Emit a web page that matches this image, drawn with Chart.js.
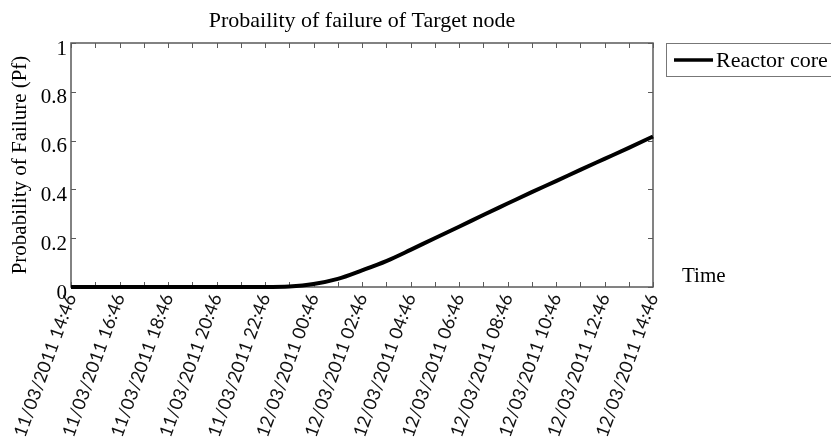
<!DOCTYPE html>
<html>
<head>
<meta charset="utf-8">
<script src="https://cdn.jsdelivr.net/npm/chart.js@4"></script>
<style>
  html, body { margin: 0; padding: 0; background: #fff; }
  #wrap { width: 831px; height: 442px; }
</style>
</head>
<body>
<div id="wrap"><canvas id="myChart" width="831" height="442"></canvas></div>
<script>
const timeLabels = [
  "11/03/2011 14:46", "11/03/2011 15:46", "11/03/2011 16:46", "11/03/2011 17:46",
  "11/03/2011 18:46", "11/03/2011 19:46", "11/03/2011 20:46", "11/03/2011 21:46",
  "11/03/2011 22:46", "11/03/2011 23:46", "12/03/2011 00:46", "12/03/2011 01:46",
  "12/03/2011 02:46", "12/03/2011 03:46", "12/03/2011 04:46", "12/03/2011 05:46",
  "12/03/2011 06:46", "12/03/2011 07:46", "12/03/2011 08:46", "12/03/2011 09:46",
  "12/03/2011 10:46", "12/03/2011 11:46", "12/03/2011 12:46", "12/03/2011 13:46",
  "12/03/2011 14:46",
];

const reactorCore = [
  0, 0, 0, 0, 0, 0, 0, 0, 0, 0.002, 0.012, 0.033,
  0.068, 0.106, 0.152, 0.2, 0.247, 0.295, 0.342, 0.389, 0.434, 0.48,
  0.525, 0.57, 0.617,
];

const yTicks = [0, 0.2, 0.4, 0.6, 0.8, 1];

const serif = "'Liberation Serif', 'Times New Roman', serif";
const axisColor = "#5a5a5a";

// matlab style box with inward ticks on all four sides
const axesBox = {
  id: "axesBox",
  beforeDatasetsDraw(chart) {
    const { ctx, chartArea: a, scales } = chart;
    const len = 5;
    ctx.save();
    ctx.strokeStyle = axisColor;
    ctx.lineWidth = 1.5;
    ctx.strokeRect(a.left, a.top, a.right - a.left, a.bottom - a.top);
    ctx.lineWidth = 1;
    ctx.beginPath();
    scales.x.ticks.forEach((t, i) => {
      const x = Math.round(scales.x.getPixelForTick(i)) + 0.5;
      ctx.moveTo(x, a.bottom);
      ctx.lineTo(x, a.bottom - len);
      ctx.moveTo(x, a.top);
      ctx.lineTo(x, a.top + len);
    });
    scales.y.ticks.forEach((t) => {
      const y = Math.round(scales.y.getPixelForValue(t.value)) + 0.5;
      ctx.moveTo(a.left, y);
      ctx.lineTo(a.left + len, y);
      ctx.moveTo(a.right, y);
      ctx.lineTo(a.right - len, y);
    });
    ctx.stroke();
    ctx.restore();
  },
  afterDraw(chart) {
    const { ctx, chartArea: a } = chart;
    const ds = chart.data.datasets[0];
    ctx.save();
    // legend box
    const lx = a.right + 13;
    const ly = a.top;
    ctx.strokeStyle = "#777";
    ctx.lineWidth = 1;
    ctx.strokeRect(lx + 0.5, ly + 0.5, 180, 33);
    ctx.strokeStyle = ds.borderColor;
    ctx.lineWidth = 3.5;
    ctx.beginPath();
    ctx.moveTo(lx + 8, ly + 17);
    ctx.lineTo(lx + 47, ly + 17);
    ctx.stroke();
    ctx.fillStyle = "#000";
    ctx.font = "22px " + serif;
    ctx.textBaseline = "middle";
    ctx.fillText(ds.label, lx + 50, ly + 18);
    // x axis name sits to the right of the axis
    ctx.font = "21px " + serif;
    ctx.fillText("Time", a.right + 29, a.bottom - 11);
    ctx.restore();
  },
};

const drawGraph = () => {
  const ctx = document.getElementById("myChart").getContext("2d");
  new Chart(ctx, {
    type: "line",
    data: {
      labels: timeLabels,
      datasets: [
        {
          label: "Reactor core",
          data: reactorCore,
          borderColor: "#000",
          borderWidth: 4,
          pointRadius: 0,
          cubicInterpolationMode: "monotone",
          clip: false,
        },
      ],
    },
    options: {
      responsive: false,
      animation: false,
      layout: { padding: { top: 0, right: 178, bottom: 0, left: 0 } },
      plugins: {
        legend: { display: false },
        tooltip: { enabled: false },
        title: {
          display: true,
          text: "Probaility of failure of Target node",
          fullSize: false,
          color: "#000",
          font: { family: serif, size: 22, weight: "normal" },
          padding: { top: 8, bottom: 8.6 },
        },
      },
      scales: {
        x: {
          type: "category",
          offset: false,
          grid: { display: false, drawTicks: false },
          border: { display: false },
          ticks: {
            autoSkip: false,
            minRotation: 70,
            maxRotation: 70,
            padding: 4,
            color: "#111",
            font: { family: "Lato, 'Open Sans', sans-serif", size: 18 },
            callback: (value, index) => (index % 2 === 0 ? timeLabels[index] : ""),
          },
          afterFit: (scale) => {
            scale.height = 155;
          },
        },
        y: {
          min: 0,
          max: 1,
          grid: { display: false, drawTicks: false },
          border: { display: false },
          afterBuildTicks: (scale) => {
            scale.ticks = yTicks.map((v) => ({ value: v }));
          },
          ticks: {
            padding: 4,
            labelOffset: 6,
            color: "#000",
            font: { family: serif, size: 21 },
            callback: (value) => String(value),
          },
          title: {
            display: true,
            text: "Probability of Failure (Pf)",
            color: "#000",
            font: { family: serif, size: 21 },
            padding: { top: 8, bottom: 0 },
          },
          afterFit: (scale) => {
            scale.width = 71;
          },
        },
      },
    },
    plugins: [axesBox],
  });
};

drawGraph();
</script>
</body>
</html>
